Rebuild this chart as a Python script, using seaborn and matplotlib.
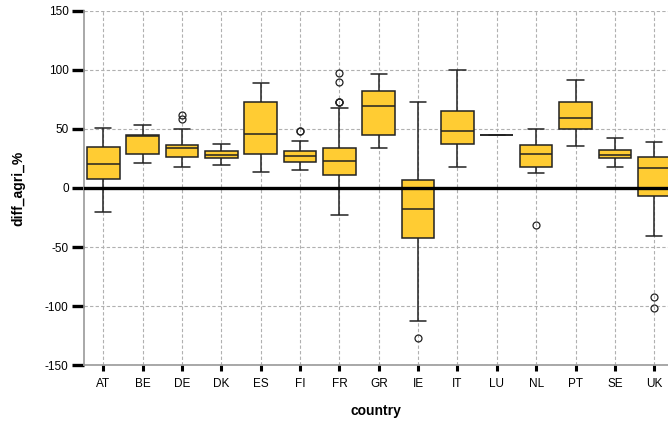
import numpy as np
import pandas as pd
import matplotlib
matplotlib.use("Agg")
import matplotlib.pyplot as plt
import seaborn as sns

# box statistics (lower whisker, Q1, median, Q3, upper whisker)
countries = ["AT", "BE", "DE", "DK", "ES", "FI", "FR", "GR", "IE", "IT", "LU", "NL", "PT", "SE", "UK"]
whisk_lo = [-20, 21, 17.5, 19.5, 13.5, 15.5, -22.5, 33.5, -112.5, 17.5, 45, 12.5, 35.5, 17.5, -41]
q1 = [8, 29, 26, 25, 29, 22, 11, 45, -42, 37.5, 45, 17.5, 50, 25, -6.5]
median = [20.5, 44, 33.5, 28, 46, 27, 23, 69, -18, 48.5, 45, 29, 59.5, 28, 17]
q3 = [34.5, 44.5, 36.5, 31, 73, 31, 34, 82, 7, 65, 45, 36.5, 73, 32.5, 26]
whisk_hi = [51, 53, 50, 37.5, 89, 40, 68, 96.5, 72.5, 100, 45, 49.5, 91, 42, 38.5]
outliers = [[], [], [58.5, 61.5], [], [], [48.5, 48.5], [72.5, 72.5, 72.5, 89.5, 97], [],
            [-127], [], [], [-31], [], [], [-92.5, -101.5]]


def build_samples(lo, a, m, b, hi, out):
    # values whose quartiles / whiskers reproduce the box exactly
    low_out = [v for v in out if v < a]
    high_out = [v for v in out if v > b]
    k = max(len(low_out), len(high_out)) + 1
    below = low_out + [lo] * (k - len(low_out))
    above = [hi] * (k - len(high_out)) + high_out
    return below + [a] * k + [m] + [b] * k + above


rows = []
for i, c in enumerate(countries):
    if whisk_lo[i] == whisk_hi[i]:
        vals = [median[i]]
    else:
        vals = build_samples(whisk_lo[i], q1[i], median[i], q3[i], whisk_hi[i], outliers[i])
    rows += [(c, v) for v in vals]
df = pd.DataFrame(rows, columns=["country", "diff_agri_%"])

sns.set_style("white")
plt.rcParams["font.family"] = ["Liberation Sans", "DejaVu Sans"]
plt.rcParams["axes.unicode_minus"] = False

fig = plt.figure(figsize=(6.68, 4.25), dpi=100)
ax = fig.add_axes([84 / 668, 1 - 365.3 / 425, 1 - 84 / 668, (365.3 - 10.7) / 425])

sns.boxplot(data=df, x="country", y="diff_agri_%", order=countries, color="#FFCC33",
            saturation=1, width=0.83, linecolor="#222222", linewidth=1.1,
            flierprops=dict(marker="o", markerfacecolor="none", markeredgecolor="#222222",
                            markersize=5, markeredgewidth=0.9),
            ax=ax, zorder=3)

ax.axhline(0, color="black", lw=2.4, zorder=4)

ax.set_ylim(-150, 150)
ax.set_xlim(-0.49, 14.35)
ax.set_yticks(np.arange(-150, 151, 50))
ax.grid(True, color="#b0b0b0", linestyle=(0, (3, 2)), lw=0.8, zorder=0)
ax.set_axisbelow(True)

for s in ["top", "right"]:
    ax.spines[s].set_visible(False)
for s in ["left", "bottom"]:
    ax.spines[s].set_color("#999999")
    ax.spines[s].set_linewidth(1.2)

ax.tick_params(axis="y", length=9, width=2.4, color="black", labelcolor="black",
               labelsize=8.5, pad=2, left=True)
ax.tick_params(axis="x", length=4.5, width=2.2, color="black", labelcolor="black",
               labelsize=8.5, pad=5, bottom=True)

ax.set_xlabel("country", fontsize=10, fontweight="bold", labelpad=10, color="black")
ax.set_ylabel("diff_agri_%", fontsize=10, fontweight="bold", labelpad=14, color="black")

fig.savefig("out.png", dpi=100)
